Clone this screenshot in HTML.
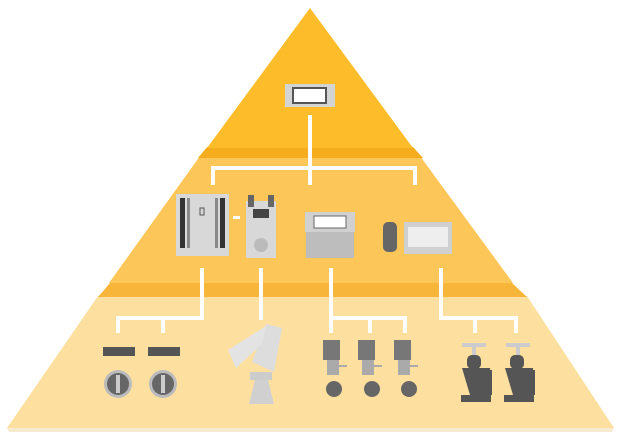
<!DOCTYPE html>
<html><head><meta charset="utf-8"><style>html,body{margin:0;padding:0;background:#fff}svg{display:block}</style></head><body>
<svg width="624" height="441" viewBox="0 0 624 441" xmlns="http://www.w3.org/2000/svg">
<polygon points="98,296 527,296 614,428 7,428" fill="#fde09f"/>
<polygon points="7,428 614,428 612,432 9,432" fill="#f3dcb0" opacity="0.6"/>
<polygon points="110,283 512,283 527,297 98,297" fill="#f7b63a"/>
<polygon points="200,156 420,156 513,283 109,283" fill="#fcc659"/>
<polygon points="207,147 413,147 423,158 198,158" fill="#f5ad1e"/>
<polygon points="310,8 413,148 207,148" fill="#fdbd2b"/>

<g stroke="#fff" stroke-width="4" fill="none">
<path d="M310,115 V185"/>
<path d="M213,185 V168 H415 V185"/>
<path d="M202,268 V318 H118 V333 M163,318 V333"/>
<path d="M261,268 V320"/>
<path d="M331,268 V333 M331,318 H405 V333 M370,318 V333"/>
<path d="M441,268 V318 H516 V333 M475,318 V333"/>
</g>

<rect x="285" y="84" width="50" height="23" fill="#d4d4d4"/>
<rect x="293" y="88" width="33" height="15" fill="#fff" stroke="#555" stroke-width="2"/>

<rect x="176" y="194" width="53" height="62" fill="#d8d8d8"/>
<rect x="180" y="198" width="5" height="50" fill="#333"/>
<rect x="187" y="198" width="3" height="50" fill="#888"/>
<rect x="220" y="198" width="5" height="50" fill="#333"/>
<rect x="215" y="198" width="3" height="50" fill="#888"/>
<rect x="200" y="208" width="4" height="7" fill="none" stroke="#555"/>
<rect x="233" y="216" width="7" height="3" fill="#fff"/>
<rect x="246" y="201" width="30" height="57" fill="#d8d8d8"/>
<rect x="248" y="195" width="6" height="12" fill="#666"/>
<rect x="268" y="195" width="6" height="12" fill="#666"/>
<rect x="253" y="209" width="16" height="9" fill="#444"/>
<circle cx="261" cy="245" r="7" fill="#bbb"/>
<rect x="305" y="212" width="50" height="20" fill="#d0d0d0"/>
<rect x="314" y="216" width="32" height="12" fill="#fff" stroke="#666"/>
<rect x="306" y="232" width="48" height="26" fill="#bdbdbd"/>
<rect x="383" y="222" width="14" height="30" rx="5" fill="#666"/>
<rect x="404" y="222" width="48" height="32" fill="#d0d0d0"/>
<rect x="408" y="227" width="40" height="20" fill="#eee"/>

<g fill="#555">
<rect x="103" y="347" width="32" height="9"/><rect x="148" y="347" width="32" height="9"/>
</g>
<circle cx="118" cy="384" r="14" fill="#bbb"/><circle cx="118" cy="384" r="11" fill="#666"/>
<circle cx="163" cy="384" r="14" fill="#bbb"/><circle cx="163" cy="384" r="11" fill="#666"/>
<rect x="116" y="375" width="4" height="18" fill="#ccc"/><rect x="161" y="375" width="4" height="18" fill="#ccc"/>
<polygon points="266,324 282,328 274,372 252,362" fill="#ddd"/>
<polygon points="228,350 266,326 262,344 236,368" fill="#e3e3e3"/>
<rect x="250" y="372" width="22" height="8" fill="#ccc"/>
<polygon points="255,380 268,380 274,404 249,404" fill="#d0d0d0"/>
<g fill="#777">
<rect x="323" y="340" width="17" height="20"/><rect x="358" y="340" width="17" height="20"/><rect x="394" y="340" width="17" height="20"/>
</g>
<g fill="#aaa">
<rect x="327" y="360" width="12" height="15"/><rect x="362" y="360" width="12" height="15"/><rect x="398" y="360" width="12" height="15"/>
<rect x="339" y="365" width="8" height="2"/><rect x="374" y="365" width="8" height="2"/><rect x="410" y="365" width="8" height="2"/>
</g>
<circle cx="334" cy="389" r="8" fill="#666"/><circle cx="372" cy="389" r="8" fill="#666"/><circle cx="409" cy="389" r="8" fill="#666"/>
<g fill="#ccc"><rect x="462" y="343" width="24" height="4"/><rect x="506" y="343" width="24" height="4"/>
<rect x="472" y="347" width="4" height="10"/><rect x="516" y="347" width="4" height="10"/></g>
<g fill="#555">
<rect x="467" y="355" width="14" height="14" rx="5"/><rect x="510" y="355" width="14" height="14" rx="5"/>
<polygon points="462,368 490,368 492,395 470,395" /><rect x="485" y="370" width="7" height="25"/>
<polygon points="505,368 533,368 535,395 513,395"/><rect x="528" y="370" width="7" height="25"/>
<rect x="461" y="395" width="30" height="7"/><rect x="504" y="395" width="30" height="7"/>
</g>
</svg>
</body></html>
